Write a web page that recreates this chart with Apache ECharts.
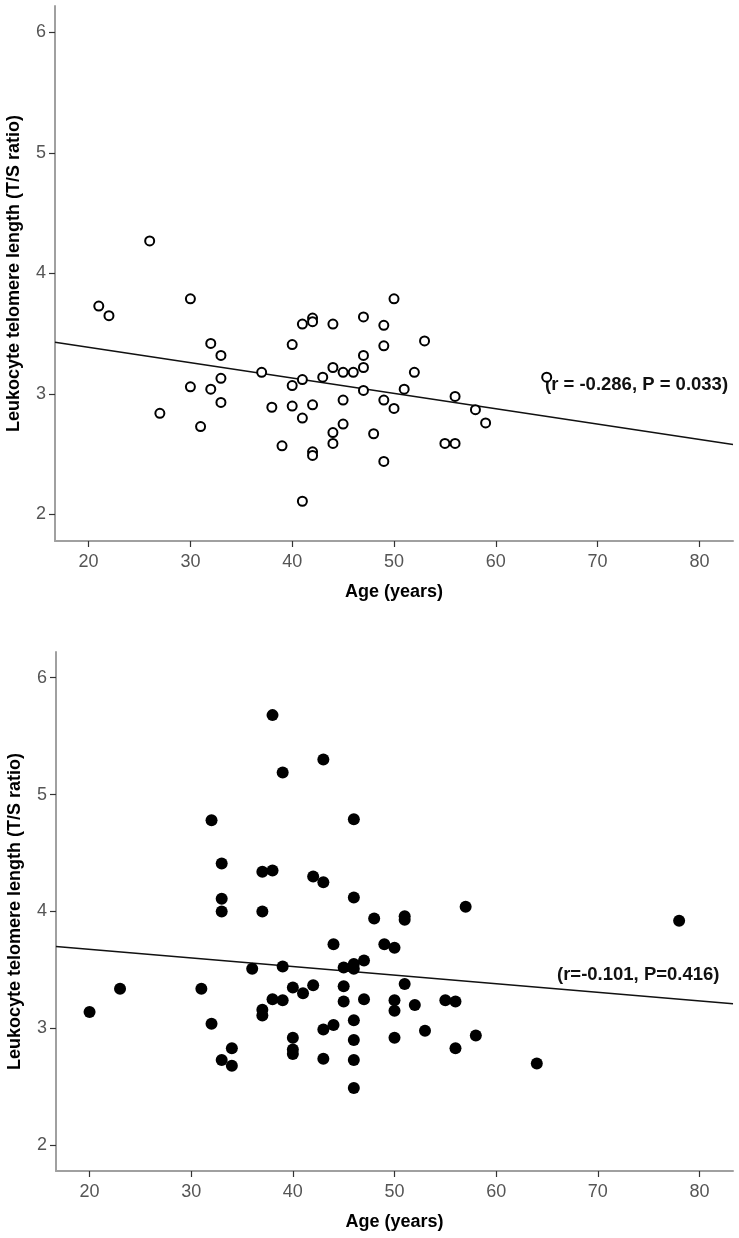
<!DOCTYPE html>
<html>
<head>
<meta charset="utf-8">
<style>
html,body{margin:0;padding:0;background:#fff;}
#chart{width:739px;height:1238px;}
</style>
<script src="https://cdn.jsdelivr.net/npm/echarts@6/dist/echarts.min.js"></script>
</head>
<body>
<div id="chart"></div>
<script>
// Top panel: open circles
const topAges = [21,22,26,27,30,30,31,32,32,33,33,33,37,38,39,40,40,40,41,41,41,41,42,42,42,42,42,43,44,44,44,44,45,45,45,46,47,47,47,47,48,49,49,49,49,50,50,51,52,53,55,56,56,58,59,65];
const topTL = [3.73,3.65,4.27,2.84,3.79,3.06,2.73,3.42,3.04,3.32,3.13,2.93,3.18,2.89,2.57,3.41,3.07,2.90,3.58,3.12,2.80,2.11,3.63,3.60,2.91,2.52,2.49,3.14,3.58,3.22,2.68,2.59,3.18,2.95,2.75,3.18,3.64,3.32,3.22,3.03,2.67,3.57,3.40,2.95,2.44,3.79,2.88,3.04,3.18,3.44,2.59,2.98,2.59,2.87,2.76,3.14];
const topFitX = [16.7, 83.3];
const topFitY = [3.43, 2.58];
const topNote = "(r = -0.286, P = 0.033)";

// Bottom panel: filled circles
const botAges = [20,23,31,32,32,33,33,33,33,34,34,36,37,37,37,37,38,38,38,39,39,39,40,40,40,40,41,42,42,43,43,43,43,44,44,45,45,45,46,46,46,46,46,46,46,46,47,47,48,49,50,50,50,50,51,51,51,52,53,55,56,56,57,58,64,78];
const botTL = [3.14,3.34,3.34,4.78,3.04,4.41,4.11,4.00,2.73,2.83,2.68,3.51,4.34,4.00,3.16,3.11,5.68,4.35,3.25,5.19,3.53,3.24,3.35,2.92,2.82,2.78,3.30,4.30,3.37,5.30,4.25,2.99,2.74,3.72,3.03,3.52,3.36,3.23,4.79,4.12,3.55,3.51,3.07,2.90,2.73,2.49,3.58,3.25,3.94,3.72,3.69,3.24,3.15,2.92,3.96,3.93,3.38,3.20,2.98,3.24,3.23,2.83,4.04,2.94,2.70,3.92];
const botFitX = [16.7, 83.3];
const botFitY = [3.70, 3.21];
const botNote = "(r=-0.101, P=0.416)";

const xTicks = [20,30,40,50,60,70,80];
const yTicks = [2,3,4,5,6];
const xTitle = "Age (years)";
const yTitle = "Leukocyte telomere length (T/S ratio)";

const zip = (a,b) => a.map((v,i)=>[v,b[i]]);
const FONT = "Liberation Sans, Arial, sans-serif";

function xAx(gi){
  return {
    type:'value', gridIndex:gi, min:16.7, max:83.3,
    name:xTitle, nameLocation:'middle', nameGap:42,
    nameTextStyle:{fontFamily:FONT,fontSize:18,fontWeight:'bold',color:'#000'},
    axisLine:{show:true,lineStyle:{color:'#a0a0a0',width:2}},
    axisTick:{show:true,length:6,lineStyle:{color:'#333',width:1.2},customValues:xTicks},
    axisLabel:{fontFamily:FONT,fontSize:18,color:'#555',margin:12,customValues:xTicks},
    splitLine:{show:false}
  };
}
function yAx(gi){
  return {
    type:'value', gridIndex:gi, min:1.78, max:6.22,
    name:yTitle, nameLocation:'middle', nameGap:32,
    nameTextStyle:{fontFamily:FONT,fontSize:18,fontWeight:'bold',color:'#000'},
    axisLine:{show:true,lineStyle:{color:'#a0a0a0',width:2}},
    axisTick:{show:true,length:6,lineStyle:{color:'#333',width:1.2},customValues:yTicks},
    axisLabel:{fontFamily:FONT,fontSize:18,color:'#555',margin:9,customValues:yTicks},
    splitLine:{show:false}
  };
}

const chart = echarts.init(document.getElementById('chart'));
chart.setOption({
  backgroundColor:'#fff',
  animation:false,
  grid:[
    {left:55,right:6,top:6,height:535,containLabel:false,outerBoundsMode:'none'},
    {left:56,right:6,top:652,height:519,containLabel:false,outerBoundsMode:'none'}
  ],
  xAxis:[xAx(0),xAx(1)],
  yAxis:[yAx(0),yAx(1)],
  series:[
    {type:'scatter',xAxisIndex:0,yAxisIndex:0,data:zip(topAges,topTL),symbol:'circle',symbolSize:9,
     itemStyle:{color:'#fff',borderColor:'#000',borderWidth:2,opacity:1}},
    {type:'line',xAxisIndex:0,yAxisIndex:0,data:zip(topFitX,topFitY),symbol:'none',
     lineStyle:{color:'#111',width:1.5},z:1},
    {type:'scatter',xAxisIndex:1,yAxisIndex:1,data:zip(botAges,botTL),symbol:'circle',symbolSize:12,
     itemStyle:{color:'#000',opacity:1}},
    {type:'line',xAxisIndex:1,yAxisIndex:1,data:zip(botFitX,botFitY),symbol:'none',
     lineStyle:{color:'#111',width:1.5},z:1}
  ],
  graphic:[
    {type:'text',left:545,top:375,style:{text:topNote,font:'bold 18.5px '+FONT,fill:'#111'}},
    {type:'text',left:557,top:965,style:{text:botNote,font:'bold 18.5px '+FONT,fill:'#111'}}
  ]
});
</script>
</body>
</html>
